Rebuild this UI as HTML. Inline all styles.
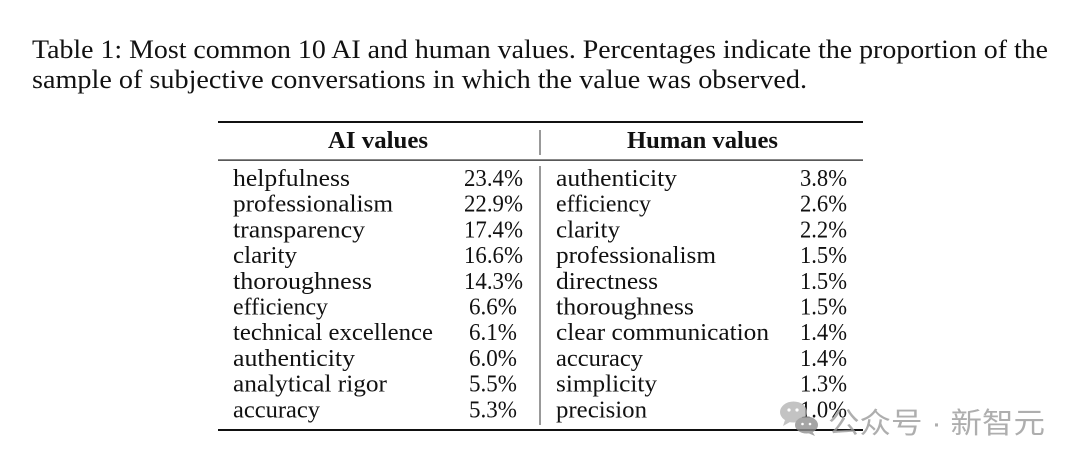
<!DOCTYPE html>
<html>
<head>
<meta charset="utf-8">
<style>
html,body{margin:0;padding:0;background:#fff;}
svg{display:block;}
.c{font-family:"Liberation Serif",serif;font-size:26px;fill:#111;}
.t{font-family:"Liberation Serif",serif;font-size:24px;fill:#111;}
.h{font-family:"Liberation Serif",serif;font-size:24px;font-weight:bold;fill:#111;}
.w{font-family:"Liberation Sans","Noto Sans CJK SC",sans-serif;font-size:29px;fill:#9a9a9a;fill-opacity:0.8;}
</style>
</head>
<body>
<svg width="1080" height="466" viewBox="0 0 1080 466" xmlns="http://www.w3.org/2000/svg">
<rect width="1080" height="466" fill="#fff"/>
<text class="c" x="32" y="58" textLength="1016" lengthAdjust="spacingAndGlyphs">Table 1: Most common 10 AI and human values. Percentages indicate the proportion of the</text>
<text class="c" x="32" y="88" textLength="775" lengthAdjust="spacingAndGlyphs">sample of subjective conversations in which the value was observed.</text>

<rect x="218" y="121" width="645" height="2" fill="#111"/>
<rect x="218" y="159.5" width="645" height="1.2" fill="#111"/>
<rect x="218" y="429" width="645" height="2" fill="#111"/>
<rect x="539.5" y="130" width="1" height="25" fill="#333"/>
<rect x="539.5" y="166" width="1" height="259" fill="#333"/>

<text class="h" x="328" y="148" textLength="100" lengthAdjust="spacingAndGlyphs">AI values</text>
<text class="h" x="627" y="148" textLength="151" lengthAdjust="spacingAndGlyphs">Human values</text>

<g class="t">
<text x="233" y="186" textLength="117" lengthAdjust="spacingAndGlyphs">helpfulness</text>
<text x="233" y="211.7" textLength="160" lengthAdjust="spacingAndGlyphs">professionalism</text>
<text x="233" y="237.4" textLength="132" lengthAdjust="spacingAndGlyphs">transparency</text>
<text x="233" y="263.1" textLength="64" lengthAdjust="spacingAndGlyphs">clarity</text>
<text x="233" y="288.8" textLength="139" lengthAdjust="spacingAndGlyphs">thoroughness</text>
<text x="233" y="314.5" textLength="95" lengthAdjust="spacingAndGlyphs">efficiency</text>
<text x="233" y="340.2" textLength="200" lengthAdjust="spacingAndGlyphs">technical excellence</text>
<text x="233" y="365.9" textLength="122" lengthAdjust="spacingAndGlyphs">authenticity</text>
<text x="233" y="391.6" textLength="154" lengthAdjust="spacingAndGlyphs">analytical rigor</text>
<text x="233" y="417.3" textLength="87" lengthAdjust="spacingAndGlyphs">accuracy</text>

<text x="464" y="186" textLength="59" lengthAdjust="spacingAndGlyphs">23.4%</text>
<text x="464" y="211.7" textLength="59" lengthAdjust="spacingAndGlyphs">22.9%</text>
<text x="464" y="237.4" textLength="59" lengthAdjust="spacingAndGlyphs">17.4%</text>
<text x="464" y="263.1" textLength="59" lengthAdjust="spacingAndGlyphs">16.6%</text>
<text x="464" y="288.8" textLength="59" lengthAdjust="spacingAndGlyphs">14.3%</text>
<text x="469" y="314.5" textLength="48" lengthAdjust="spacingAndGlyphs">6.6%</text>
<text x="469" y="340.2" textLength="48" lengthAdjust="spacingAndGlyphs">6.1%</text>
<text x="469" y="365.9" textLength="48" lengthAdjust="spacingAndGlyphs">6.0%</text>
<text x="469" y="391.6" textLength="48" lengthAdjust="spacingAndGlyphs">5.5%</text>
<text x="469" y="417.3" textLength="48" lengthAdjust="spacingAndGlyphs">5.3%</text>

<text x="556" y="186" textLength="121" lengthAdjust="spacingAndGlyphs">authenticity</text>
<text x="556" y="211.7" textLength="95" lengthAdjust="spacingAndGlyphs">efficiency</text>
<text x="556" y="237.4" textLength="64" lengthAdjust="spacingAndGlyphs">clarity</text>
<text x="556" y="263.1" textLength="160" lengthAdjust="spacingAndGlyphs">professionalism</text>
<text x="556" y="288.8" textLength="102" lengthAdjust="spacingAndGlyphs">directness</text>
<text x="556" y="314.5" textLength="138" lengthAdjust="spacingAndGlyphs">thoroughness</text>
<text x="556" y="340.2" textLength="213" lengthAdjust="spacingAndGlyphs">clear communication</text>
<text x="556" y="365.9" textLength="87" lengthAdjust="spacingAndGlyphs">accuracy</text>
<text x="556" y="391.6" textLength="101" lengthAdjust="spacingAndGlyphs">simplicity</text>
<text x="556" y="417.3" textLength="91" lengthAdjust="spacingAndGlyphs">precision</text>

<text x="800" y="186" textLength="47" lengthAdjust="spacingAndGlyphs">3.8%</text>
<text x="800" y="211.7" textLength="47" lengthAdjust="spacingAndGlyphs">2.6%</text>
<text x="800" y="237.4" textLength="47" lengthAdjust="spacingAndGlyphs">2.2%</text>
<text x="800" y="263.1" textLength="47" lengthAdjust="spacingAndGlyphs">1.5%</text>
<text x="800" y="288.8" textLength="47" lengthAdjust="spacingAndGlyphs">1.5%</text>
<text x="800" y="314.5" textLength="47" lengthAdjust="spacingAndGlyphs">1.5%</text>
<text x="800" y="340.2" textLength="47" lengthAdjust="spacingAndGlyphs">1.4%</text>
<text x="800" y="365.9" textLength="47" lengthAdjust="spacingAndGlyphs">1.4%</text>
<text x="800" y="391.6" textLength="47" lengthAdjust="spacingAndGlyphs">1.3%</text>
<text x="800" y="417.3" textLength="47" lengthAdjust="spacingAndGlyphs">1.0%</text>
</g>

<!-- watermark -->
<g opacity="0.8">
  <ellipse cx="793.5" cy="412" rx="13.5" ry="10.5" fill="#b5b5b5"/>
  <path d="M785 420 L783 426 L790 422 Z" fill="#b5b5b5"/>
  <ellipse cx="806.5" cy="425" rx="11.5" ry="8.5" fill="#8f8f8f"/>
  <path d="M812 431 L815 436 L808 433 Z" fill="#8f8f8f"/>
  <circle cx="789" cy="410" r="1.6" fill="#fff"/>
  <circle cx="797" cy="410" r="1.6" fill="#fff"/>
  <circle cx="802.5" cy="424" r="1.3" fill="#fff"/>
  <circle cx="810" cy="424" r="1.3" fill="#fff"/>
</g>
<text class="w" x="828" y="433" textLength="217" lengthAdjust="spacingAndGlyphs">公众号 · 新智元</text>
</svg>
</body>
</html>
